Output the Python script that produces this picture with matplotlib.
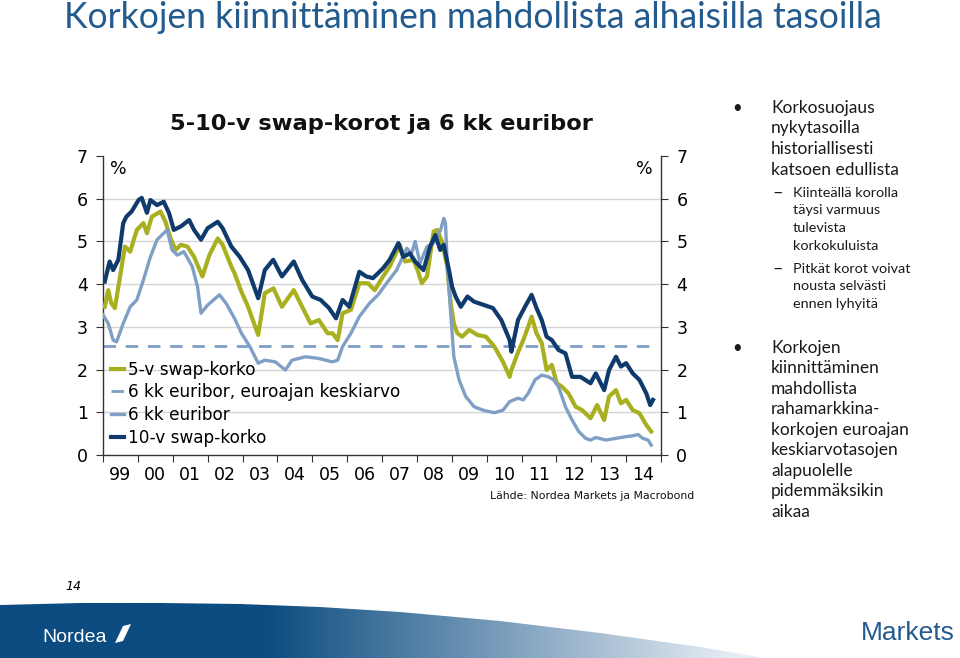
import numpy as np
import matplotlib
matplotlib.use("Agg")
import matplotlib.pyplot as plt
from matplotlib.patches import Polygon

# --- data (decimal years, %) ---
swap10_t = [1999.05, 1999.19, 1999.29, 1999.44, 1999.58, 1999.67, 1999.82, 2000.02, 2000.11, 2000.26,
            2000.36, 2000.55, 2000.74, 2000.89, 2001.03, 2001.23, 2001.47, 2001.61, 2001.81, 2002.00,
            2002.29, 2002.43, 2002.68, 2002.92, 2003.16, 2003.45, 2003.64, 2003.88, 2004.13, 2004.47,
            2004.71, 2005.00, 2005.24, 2005.48, 2005.68, 2005.87, 2006.06, 2006.35, 2006.55, 2006.74,
            2007.03, 2007.22, 2007.47, 2007.61, 2007.80, 2007.95, 2008.19, 2008.38, 2008.53, 2008.67,
            2008.77, 2008.92, 2009.01, 2009.11, 2009.26, 2009.45, 2009.64, 2009.93, 2010.18, 2010.42,
            2010.66, 2010.71, 2010.90, 2011.10, 2011.29, 2011.43, 2011.58, 2011.72, 2011.87, 2012.06,
            2012.26, 2012.45, 2012.69, 2012.98, 2013.13, 2013.37, 2013.51, 2013.71, 2013.85, 2014.00,
            2014.19, 2014.38, 2014.58, 2014.69, 2014.77]
swap10_v = [4.06, 4.53, 4.33, 4.57, 5.43, 5.58, 5.70, 5.97, 6.02, 5.67,
            5.97, 5.85, 5.93, 5.67, 5.27, 5.35, 5.50, 5.27, 5.04, 5.31,
            5.46, 5.31, 4.88, 4.64, 4.33, 3.67, 4.33, 4.57, 4.18, 4.53,
            4.10, 3.71, 3.63, 3.44, 3.20, 3.63, 3.47, 4.29, 4.18, 4.14,
            4.37, 4.57, 4.96, 4.64, 4.72, 4.53, 4.33, 4.88, 5.15, 4.80,
            4.92, 4.33, 3.94, 3.71, 3.47, 3.71, 3.59, 3.51, 3.44, 3.16,
            2.69, 2.42, 3.16, 3.47, 3.75, 3.44, 3.16, 2.77, 2.69, 2.46,
            2.38, 1.83, 1.83, 1.68, 1.91, 1.52, 1.99, 2.30, 2.07, 2.15,
            1.91, 1.76, 1.44, 1.17, 1.29]

swap5_t = [1999.05, 1999.15, 1999.24, 1999.34, 1999.49, 1999.63, 1999.78, 1999.97, 2000.16, 2000.26,
           2000.40, 2000.65, 2000.79, 2000.94, 2001.08, 2001.23, 2001.42, 2001.61, 2001.85, 2002.05,
           2002.29, 2002.43, 2002.68, 2002.77, 2002.97, 2003.16, 2003.45, 2003.64, 2003.89, 2004.13,
           2004.47, 2004.71, 2004.95, 2005.19, 2005.44, 2005.58, 2005.73, 2005.87, 2006.11, 2006.35,
           2006.60, 2006.79, 2007.03, 2007.22, 2007.51, 2007.66, 2007.90, 2008.05, 2008.14, 2008.29,
           2008.48, 2008.58, 2008.72, 2008.87, 2008.97, 2009.06, 2009.16, 2009.30, 2009.50, 2009.74,
           2009.98, 2010.22, 2010.47, 2010.66, 2010.71, 2010.90, 2011.05, 2011.19, 2011.29, 2011.43,
           2011.58, 2011.72, 2011.87, 2012.01, 2012.16, 2012.35, 2012.55, 2012.74, 2012.98, 2013.17,
           2013.37, 2013.51, 2013.71, 2013.85, 2014.00, 2014.19, 2014.38, 2014.58, 2014.72]
swap5_v = [3.47, 3.86, 3.55, 3.44, 4.18, 4.88, 4.76, 5.27, 5.43, 5.19,
           5.58, 5.70, 5.46, 5.07, 4.80, 4.92, 4.88, 4.64, 4.18, 4.68,
           5.07, 4.92, 4.41, 4.26, 3.82, 3.47, 2.81, 3.79, 3.90, 3.47,
           3.86, 3.47, 3.08, 3.16, 2.85, 2.85, 2.69, 3.32, 3.40, 4.02,
           4.02, 3.86, 4.18, 4.41, 4.92, 4.53, 4.57, 4.26, 4.02, 4.18,
           5.23, 5.27, 5.00, 4.41, 3.55, 3.08, 2.85, 2.77, 2.93, 2.81,
           2.77, 2.54, 2.18, 1.83, 1.99, 2.40, 2.69, 3.00, 3.24, 2.85,
           2.62, 1.99, 2.11, 1.68, 1.60, 1.44, 1.13, 1.05, 0.86, 1.17,
           0.82, 1.37, 1.52, 1.21, 1.29, 1.05, 0.98, 0.70, 0.55]

euribor6_t = [1999.00, 1999.15, 1999.29, 1999.39, 1999.58, 1999.78, 1999.97, 2000.16, 2000.36, 2000.55,
              2000.74, 2000.84, 2000.98, 2001.13, 2001.32, 2001.56, 2001.71, 2001.81, 2002.00, 2002.34,
              2002.53, 2002.77, 2002.97, 2003.21, 2003.45, 2003.64, 2003.94, 2004.23, 2004.42, 2004.81,
              2005.19, 2005.58, 2005.73, 2005.87, 2006.11, 2006.35, 2006.64, 2006.89, 2007.13, 2007.42,
              2007.71, 2007.85, 2007.95, 2008.09, 2008.29, 2008.48, 2008.68, 2008.77, 2008.82, 2008.87,
              2008.97, 2009.06, 2009.21, 2009.40, 2009.64, 2009.93, 2010.22, 2010.47, 2010.66, 2010.90,
              2011.05, 2011.19, 2011.39, 2011.58, 2011.77, 2011.92, 2012.06, 2012.26, 2012.45, 2012.64,
              2012.84, 2012.98, 2013.13, 2013.42, 2013.71, 2014.00, 2014.19, 2014.34, 2014.48, 2014.63,
              2014.72]
euribor6_v = [3.28, 3.08, 2.69, 2.65, 3.08, 3.47, 3.63, 4.10, 4.64, 5.04,
              5.19, 5.27, 4.80, 4.68, 4.76, 4.41, 3.94, 3.32, 3.51, 3.75,
              3.55, 3.20, 2.85, 2.54, 2.15, 2.22, 2.18, 1.99, 2.22, 2.30,
              2.26, 2.18, 2.22, 2.54, 2.85, 3.24, 3.55, 3.75, 4.02, 4.33,
              4.84, 4.72, 5.00, 4.49, 4.88, 4.96, 5.27, 5.54, 5.43, 4.49,
              3.32, 2.30, 1.76, 1.37, 1.13, 1.04, 0.99, 1.05, 1.25, 1.33,
              1.29, 1.44, 1.76, 1.87, 1.83, 1.76, 1.60, 1.13, 0.82, 0.55,
              0.39, 0.35, 0.41, 0.35, 0.39, 0.43, 0.45, 0.48, 0.39, 0.35,
              0.23]

euribor_mean = 2.56
mean_span = [1999.0, 2014.75]

year_labels = ["99", "00", "01", "02", "03", "04", "05", "06", "07", "08",
               "09", "10", "11", "12", "13", "14"]

legend_labels = ["5-v swap-korko", "6 kk euribor, euroajan keskiarvo", "6 kk euribor", "10-v swap-korko"]

navy = "#0f3a6c"
olive = "#a9b020"
steel = "#7f9fc5"
slide_blue = "#235b8e"

fig = plt.figure(figsize=(9.6, 6.58), dpi=100)

# background axes in pixel coordinates for slide decorations
bg = fig.add_axes([0, 0, 1, 1], zorder=0)
bg.set_xlim(0, 960)
bg.set_ylim(658, 0)
bg.axis("off")

# footer band with gradient
curve_x = [0, 80, 160, 240, 320, 400, 500, 600, 700, 760, 760, 0]
curve_y = [605, 603, 603, 604, 607, 612, 621, 633, 647, 657, 658, 658]
band = Polygon(list(zip(curve_x, curve_y)), closed=True, facecolor="none", edgecolor="none")
bg.add_patch(band)
grad = np.linspace(0, 1, 256)
c0 = np.array([0x0c, 0x4c, 0x80]) / 255
c1 = np.array([0xe8, 0xee, 0xf5]) / 255
ramp = np.clip((grad - 0.35) / 0.62, 0, 1)
cols = c0[None, :] * (1 - ramp[:, None]) + c1[None, :] * ramp[:, None]
img = bg.imshow(cols[None, :, :], extent=[0, 760, 658, 600], aspect="auto", zorder=1)
img.set_clip_path(band)
bg.set_xlim(0, 960)
bg.set_ylim(658, 0)

bg.text(42, 637, "Nordea", color="white", fontsize=14,
        family=["Liberation Sans", "DejaVu Sans"], va="center", ha="left", zorder=2)
sail = Polygon([(115, 643), (123, 626), (131, 624), (123, 641)], closed=True, facecolor="white",
               edgecolor="none", zorder=2)
bg.add_patch(sail)
bg.text(861, 633, "Markets", color=slide_blue, fontsize=19,
        family=["Liberation Sans Narrow", "Liberation Sans", "DejaVu Sans"], va="center", ha="left")
bg.text(65, 587, "14", fontsize=9, style="italic", va="center", ha="left",
        family=["Liberation Sans Narrow", "DejaVu Sans"])

# slide title
bg.text(64, 18, "Korkojen kiinnittäminen mahdollista alhaisilla tasoilla", color=slide_blue,
        fontsize=25.6, family=["Lato", "DejaVu Sans"], va="center", ha="left")

# chart title and source
bg.text(381, 124, "5-10-v swap-korot ja 6 kk euribor", fontsize=16.2, fontweight="bold",
        va="center", ha="center", color="#111111")
bg.text(490, 496, "Lähde: Nordea Markets ja Macrobond", fontsize=7.8, va="center", ha="left",
        color="#111111")

# bullet text on the right
body_font = ["Lato", "DejaVu Sans"]
main_lines = [("Korkosuojaus", 108), ("nykytasoilla", 128), ("historiallisesti", 149),
              ("katsoen edullista", 170)]
sub1 = [("Kiinteällä korolla", 193), ("täysi varmuus", 210), ("tulevista", 228), ("korkokuluista", 246)]
sub2 = [("Pitkät korot voivat", 269), ("nousta selvästi", 286), ("ennen lyhyitä", 304)]
main2 = [("Korkojen", 348), ("kiinnittäminen", 368), ("mahdollista", 389), ("rahamarkkina-", 409),
         ("korkojen euroajan", 430), ("keskiarvotasojen", 450), ("alapuolelle", 471),
         ("pidemmäksikin", 491), ("aikaa", 512)]
for txt, y in main_lines + main2:
    bg.text(771, y, txt, fontsize=12.5, family=body_font, va="center", ha="left", color="#1a1a1a")
for txt, y in sub1 + sub2:
    bg.text(793, y, txt, fontsize=10.4, family=body_font, va="center", ha="left", color="#1a1a1a")
for y in (108, 348):
    bg.text(737, y, "•", fontsize=12, family=body_font, va="center", ha="center", color="#1a1a1a")
for y in (193, 269):
    bg.text(778, y, "–", fontsize=13, family=body_font, va="center", ha="center", color="#1a1a1a")

# --- chart ---
ax = fig.add_axes([103 / 960, 1 - 455 / 658, 558 / 960, 299 / 658], zorder=2)
ax.patch.set_alpha(0)

for g in range(1, 7):
    ax.axhline(g, color="#d4d4d4", lw=1.0, zorder=0)

ax.plot(swap5_t, swap5_v, color=olive, lw=3.0, label=legend_labels[0], zorder=3)
ax.plot(mean_span, [euribor_mean, euribor_mean], color=steel, lw=2.0, dashes=(4.5, 3.5),
        label=legend_labels[1], zorder=2)
ax.plot(euribor6_t, euribor6_v, color=steel, lw=2.4, label=legend_labels[2], zorder=3)
ax.plot(swap10_t, swap10_v, color=navy, lw=3.0, label=legend_labels[3], zorder=4)

ax.set_xlim(1999, 2015)
ax.set_ylim(0, 7)
ax.set_xticks(np.arange(1999, 2016))
ax.set_xticklabels([])
ax.set_xticks(np.arange(1999, 2015) + 0.5, minor=True)
ax.set_xticklabels(year_labels, minor=True)
ax.tick_params(axis="x", which="major", length=5, direction="out", color="#333333")
ax.tick_params(axis="x", which="minor", length=0, labelsize=12.5, pad=8)
ax.set_yticks(range(0, 8))
ax.tick_params(axis="y", length=5, direction="out", labelsize=12.5, left=True, right=True,
               labelleft=True, labelright=True, color="#333333", pad=6)
for s in ("left", "right", "bottom"):
    ax.spines[s].set_color("#333333")
    ax.spines[s].set_linewidth(1.0)
ax.spines["top"].set_visible(False)

ax.text(0.012, 0.955, "%", transform=ax.transAxes, fontsize=12.5, va="center", ha="left")
ax.text(0.985, 0.955, "%", transform=ax.transAxes, fontsize=12.5, va="center", ha="right")

h, l = ax.get_legend_handles_labels()
ax.legend(h, l, loc="upper left", bbox_to_anchor=(-0.004, 0.35), frameon=False, fontsize=12.2,
          handlelength=0.8, handletextpad=0.2, labelspacing=0.28, borderaxespad=0.2)

fig.savefig("out.png", dpi=100)
